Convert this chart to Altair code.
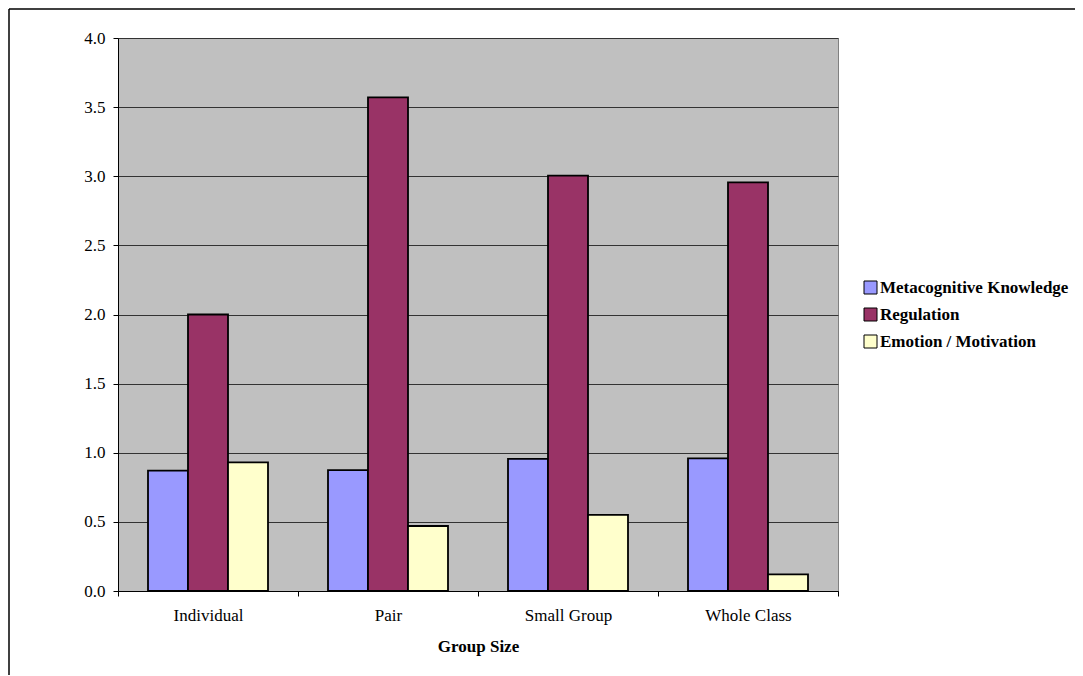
import altair as alt
import pandas as pd

groups = ["Individual", "Pair", "Small Group", "Whole Class"]
series = ["Metacognitive Knowledge", "Regulation", "Emotion / Motivation"]
metacognitive = [0.87, 0.875, 0.955, 0.96]
regulation = [2.0, 3.57, 3.005, 2.955]
emotion = [0.93, 0.47, 0.55, 0.12]
colors = ["#9999FF", "#993366", "#FFFFCC"]
y_ticks = [0.0, 0.5, 1.0, 1.5, 2.0, 2.5, 3.0, 3.5, 4.0]

rows = []
for vals, s in zip([metacognitive, regulation, emotion], series):
    for g, v in zip(groups, vals):
        rows.append({"group": g, "series": s, "value": v})
df = pd.DataFrame(rows)

FONT = "Liberation Serif"
FS = 17

bars = alt.Chart(df).mark_bar(stroke="black", strokeWidth=1.8).encode(
    x=alt.X(
        "group:N",
        sort=groups,
        scale=alt.Scale(paddingInner=0, paddingOuter=0),
        axis=alt.Axis(
            title="Group Size",
            tickBand="extent",
            labelAngle=0,
            grid=False,
            tickSize=5,
            tickColor="black",
            domainColor="black",
            labelPadding=11,
            titlePadding=15,
            labelFont=FONT,
            labelFontSize=FS,
            labelColor="black",
            titleFont=FONT,
            titleFontSize=FS,
            titleFontWeight="bold",
            titleColor="black",
        ),
    ),
    xOffset=alt.XOffset(
        "series:N", sort=series, scale=alt.Scale(paddingInner=0, paddingOuter=0.75)
    ),
    y=alt.Y(
        "value:Q",
        scale=alt.Scale(domain=[0, 4], nice=False),
        axis=alt.Axis(
            title=None,
            values=y_ticks,
            format=".1f",
            grid=True,
            gridColor="#333333",
            gridWidth=1,
            tickSize=5,
            tickColor="black",
            domainColor="black",
            labelPadding=8,
            labelFont=FONT,
            labelFontSize=FS,
            labelColor="black",
        ),
    ),
    color=alt.Color(
        "series:N",
        sort=series,
        scale=alt.Scale(domain=series, range=colors),
        legend=alt.Legend(
            title=None,
            orient="none",
            legendX=744,
            legendY=241,
            symbolType="square",
            symbolSize=169,
            symbolStrokeColor="black",
            symbolStrokeWidth=1,
            labelFont=FONT,
            labelFontSize=FS,
            labelFontWeight="bold",
            labelColor="black",
            labelLimit=0,
            rowPadding=9,
            labelOffset=1,
        ),
    ),
)

one = alt.Data(values=[{}])
border_top = alt.Chart(one).mark_rule(color="black", strokeWidth=1.5).encode(
    x=alt.value(-109), x2=alt.value(960), y=alt.value(-29)
)
border_left = alt.Chart(one).mark_rule(color="black", strokeWidth=1.5).encode(
    x=alt.value(-109), y=alt.value(-29), y2=alt.value(660)
)

chart = alt.layer(border_top, border_left, bars).properties(
    width=720,
    height=553,
    autosize=alt.AutoSizeParams(type="none"),
    padding={"left": 110, "top": 30, "right": 237, "bottom": 84},
    background="white",
).configure_view(fill="#C0C0C0", stroke="#808080", strokeWidth=1)

chart.save("out.html", embed_options={"renderer": "svg", "actions": False})
